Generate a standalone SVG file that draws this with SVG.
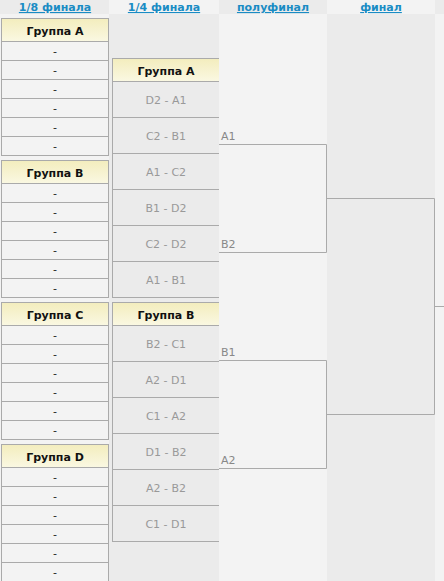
<svg xmlns="http://www.w3.org/2000/svg" width="444" height="581" viewBox="0 0 444 581">
<defs>
<linearGradient id="hdr" x1="0" y1="0" x2="0" y2="1">
<stop offset="0" stop-color="#f3edbd"/>
<stop offset="1" stop-color="#faf8e2"/>
</linearGradient>
<style>
.hl{font-family:"DejaVu Sans",Verdana,sans-serif;font-size:11px;font-weight:bold;fill:#1a8cc4;text-anchor:middle;text-decoration:underline}
.gh{fill:url(#hdr);stroke:#aaa;stroke-width:1}
.cell{fill:#f3f3f3;stroke:#aaa;stroke-width:1}
.gt{font-family:"DejaVu Sans",Verdana,sans-serif;font-size:11px;font-weight:bold;fill:#111;text-anchor:middle}
.d{font-family:"DejaVu Sans",Verdana,sans-serif;font-size:11px;fill:#222;text-anchor:middle}
.m{font-family:"DejaVu Sans",Verdana,sans-serif;font-size:11px;fill:#999;text-anchor:middle}
.sl{font-family:"DejaVu Sans",Verdana,sans-serif;font-size:11px;fill:#888}
.ln{stroke:#aaa;stroke-width:1;fill:none}
.c2{fill:#ebebeb;stroke:#aaa;stroke-width:1}
</style>
</defs>
<!-- column backgrounds -->
<rect x="0" y="0" width="109" height="581" fill="#f3f3f3"/>
<rect x="109" y="0" width="110" height="581" fill="#ebebeb"/>
<rect x="219" y="0" width="108" height="581" fill="#f3f3f3"/>
<rect x="327" y="0" width="108" height="581" fill="#ebebeb"/>
<rect x="435" y="0" width="9" height="581" fill="#f3f3f3"/>
<!-- header row -->
<rect x="0" y="0" width="109" height="14" fill="#ebebeb"/>
<rect x="109" y="0" width="110" height="14" fill="#f3f3f3"/>
<rect x="219" y="0" width="108" height="14" fill="#ebebeb"/>
<rect x="327" y="0" width="108" height="14" fill="#f3f3f3"/>
<rect x="435" y="0" width="9" height="14" fill="#ebebeb"/>
<g id="headers">
<text class="hl" x="55" y="11">1/8 финала</text>
<text class="hl" x="164" y="11">1/4 финала</text>
<text class="hl" x="273" y="11">полуфинал</text>
<text class="hl" x="381" y="11">финал</text>
</g>
<!-- 1/8 groups -->
<g id="r16-group-a">
<rect class="gh" x="1.5" y="18.5" width="107" height="23"/>
<text class="gt" x="55" y="35">Группа A</text>
<rect class="cell" x="1.5" y="41.5" width="107" height="19"/>
<rect class="cell" x="1.5" y="60.5" width="107" height="19"/>
<rect class="cell" x="1.5" y="79.5" width="107" height="19"/>
<rect class="cell" x="1.5" y="98.5" width="107" height="19"/>
<rect class="cell" x="1.5" y="117.5" width="107" height="19"/>
<rect class="cell" x="1.5" y="136.5" width="107" height="19"/>
<text class="d" x="55" y="55">-</text>
<text class="d" x="55" y="74">-</text>
<text class="d" x="55" y="93">-</text>
<text class="d" x="55" y="112">-</text>
<text class="d" x="55" y="131">-</text>
<text class="d" x="55" y="150">-</text>
</g>
<g id="r16-group-b">
<rect class="gh" x="1.5" y="160.5" width="107" height="23"/>
<text class="gt" x="55" y="177">Группа B</text>
<rect class="cell" x="1.5" y="183.5" width="107" height="19"/>
<rect class="cell" x="1.5" y="202.5" width="107" height="19"/>
<rect class="cell" x="1.5" y="221.5" width="107" height="19"/>
<rect class="cell" x="1.5" y="240.5" width="107" height="19"/>
<rect class="cell" x="1.5" y="259.5" width="107" height="19"/>
<rect class="cell" x="1.5" y="278.5" width="107" height="19"/>
<text class="d" x="55" y="197">-</text>
<text class="d" x="55" y="216">-</text>
<text class="d" x="55" y="235">-</text>
<text class="d" x="55" y="254">-</text>
<text class="d" x="55" y="273">-</text>
<text class="d" x="55" y="292">-</text>
</g>
<g id="r16-group-c">
<rect class="gh" x="1.5" y="302.5" width="107" height="23"/>
<text class="gt" x="55" y="319">Группа C</text>
<rect class="cell" x="1.5" y="325.5" width="107" height="19"/>
<rect class="cell" x="1.5" y="344.5" width="107" height="19"/>
<rect class="cell" x="1.5" y="363.5" width="107" height="19"/>
<rect class="cell" x="1.5" y="382.5" width="107" height="19"/>
<rect class="cell" x="1.5" y="401.5" width="107" height="19"/>
<rect class="cell" x="1.5" y="420.5" width="107" height="19"/>
<text class="d" x="55" y="339">-</text>
<text class="d" x="55" y="358">-</text>
<text class="d" x="55" y="377">-</text>
<text class="d" x="55" y="396">-</text>
<text class="d" x="55" y="415">-</text>
<text class="d" x="55" y="434">-</text>
</g>
<g id="r16-group-d">
<rect class="gh" x="1.5" y="444.5" width="107" height="23"/>
<text class="gt" x="55" y="461">Группа D</text>
<rect class="cell" x="1.5" y="467.5" width="107" height="19"/>
<rect class="cell" x="1.5" y="486.5" width="107" height="19"/>
<rect class="cell" x="1.5" y="505.5" width="107" height="19"/>
<rect class="cell" x="1.5" y="524.5" width="107" height="19"/>
<rect class="cell" x="1.5" y="543.5" width="107" height="19"/>
<rect class="cell" x="1.5" y="562.5" width="107" height="19"/>
<text class="d" x="55" y="481">-</text>
<text class="d" x="55" y="500">-</text>
<text class="d" x="55" y="519">-</text>
<text class="d" x="55" y="538">-</text>
<text class="d" x="55" y="557">-</text>
<text class="d" x="55" y="576">-</text>
</g>
<!-- 1/4 groups -->
<g id="qf-group-a">
<rect class="gh" x="112.5" y="58.5" width="108" height="23"/>
<text class="gt" x="166" y="75">Группа A</text>
<rect class="c2" x="112.5" y="81.5" width="108" height="36"/>
<rect class="c2" x="112.5" y="117.5" width="108" height="36"/>
<rect class="c2" x="112.5" y="153.5" width="108" height="36"/>
<rect class="c2" x="112.5" y="189.5" width="108" height="36"/>
<rect class="c2" x="112.5" y="225.5" width="108" height="36"/>
<rect class="c2" x="112.5" y="261.5" width="108" height="36"/>
<text class="m" x="166" y="104">D2 - A1</text>
<text class="m" x="166" y="140">C2 - B1</text>
<text class="m" x="166" y="176">A1 - C2</text>
<text class="m" x="166" y="212">B1 - D2</text>
<text class="m" x="166" y="248">C2 - D2</text>
<text class="m" x="166" y="284">A1 - B1</text>
</g>
<g id="qf-group-b">
<rect class="gh" x="112.5" y="302.5" width="108" height="23"/>
<text class="gt" x="166" y="319">Группа B</text>
<rect class="c2" x="112.5" y="325.5" width="108" height="36"/>
<rect class="c2" x="112.5" y="361.5" width="108" height="36"/>
<rect class="c2" x="112.5" y="397.5" width="108" height="36"/>
<rect class="c2" x="112.5" y="433.5" width="108" height="36"/>
<rect class="c2" x="112.5" y="469.5" width="108" height="36"/>
<rect class="c2" x="112.5" y="505.5" width="108" height="36"/>
<text class="m" x="166" y="348">B2 - C1</text>
<text class="m" x="166" y="384">A2 - D1</text>
<text class="m" x="166" y="420">C1 - A2</text>
<text class="m" x="166" y="456">D1 - B2</text>
<text class="m" x="166" y="492">A2 - B2</text>
<text class="m" x="166" y="528">C1 - D1</text>
</g>
<!-- redraw semifinal column over qf right borders -->
<rect x="219" y="14" width="108" height="567" fill="#f3f3f3"/>
<!-- semifinal slots -->
<g id="sf-a1"><text class="sl" x="221" y="140">A1</text></g>
<g id="sf-b2"><text class="sl" x="221" y="248">B2</text></g>
<g id="sf-b1"><text class="sl" x="221" y="356">B1</text></g>
<g id="sf-a2"><text class="sl" x="221" y="464">A2</text></g>
<g id="connectors">
<path class="ln" d="M219 144.5H326.5V252.5H219"/>
<path class="ln" d="M219 360.5H326.5V468.5H219"/>
<path class="ln" d="M326.5 198.5H434.5V414.5H326.5"/>
<path class="ln" d="M434.5 306.5H444"/>
</g>
</svg>
